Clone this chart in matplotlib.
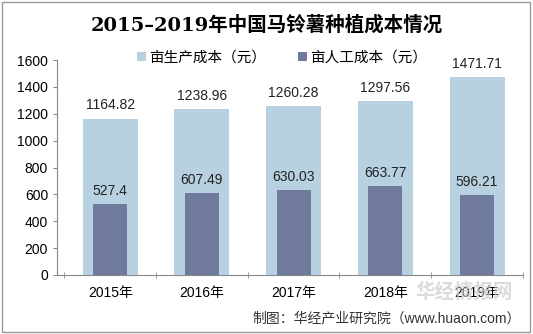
import matplotlib
matplotlib.use('Agg')
import matplotlib.pyplot as plt
import numpy as np

plt.rcParams['font.family'] = ['Liberation Sans', 'Noto Sans CJK SC']

years = ['2015年', '2016年', '2017年', '2018年', '2019年']
prod_cost = [1164.82, 1238.96, 1260.28, 1297.56, 1471.71]
labor_cost = [527.4, 607.49, 630.03, 663.77, 596.21]

x = np.arange(len(years))

fig = plt.figure(figsize=(5.33, 3.34), dpi=100)
ax = fig.add_axes([0.107, 0.177, 0.874, 0.643])

ax.bar(x, prod_cost, width=0.6, color='#b7d1e1', label='亩生产成本（元）', zorder=2)
ax.bar(x, labor_cost, width=0.37, color='#6f7a9c', label='亩人工成本（元）', zorder=3)

for i in range(len(x)):
    ax.text(x[i], prod_cost[i] + 45, f'{prod_cost[i]:g}', ha='center', va='bottom',
            fontsize=10, color='#222222')
    ax.text(x[i], labor_cost[i] + 45, f'{labor_cost[i]:g}', ha='center', va='bottom',
            fontsize=10, color='#222222')

ax.set_ylim(0, 1600)
ax.set_yticks(range(0, 1601, 200))
ax.set_xlim(-0.58, 4.5)
ax.set_xticks(x)
ax.set_xticklabels(years, fontsize=10)
ax.tick_params(axis='y', labelsize=10, length=3, color='#888888')
ax.set_xticks(np.arange(-0.5, 5, 1), minor=True)
ax.tick_params(axis='x', which='major', length=0, pad=8)
ax.tick_params(axis='x', which='minor', length=4, direction='inout', color='#888888')
for s in ['top', 'right']:
    ax.spines[s].set_visible(False)
ax.spines['left'].set_color('#888888')
ax.spines['bottom'].set_color('#888888')

ax.legend(loc='upper left', bbox_to_anchor=(0.16, 1.07), ncol=2, frameon=False,
          fontsize=10.5, handlelength=0.6, handleheight=0.6, handletextpad=0.2,
          columnspacing=2.2, borderaxespad=0)

fig.text(0.5, 0.925, '2015–2019年中国马铃薯种植成本情况', ha='center', va='center',
         fontsize=14, fontweight='bold', family=['DejaVu Serif', 'Noto Sans CJK SC'])
fig.text(0.978, 0.048, '制图：华经产业研究院（www.huaon.com）', ha='right', va='center',
         fontsize=10, color='#333333')
fig.text(0.87, 0.125, '华经情报网', ha='center', va='center', fontsize=14,
         color='#cccccc', alpha=0.7, fontweight='bold')

fig.patches.append(plt.Rectangle((0.004, 0.006), 0.99, 0.988, transform=fig.transFigure,
                                 fill=False, edgecolor='#999999', linewidth=1))

fig.savefig('out.png', dpi=100)
